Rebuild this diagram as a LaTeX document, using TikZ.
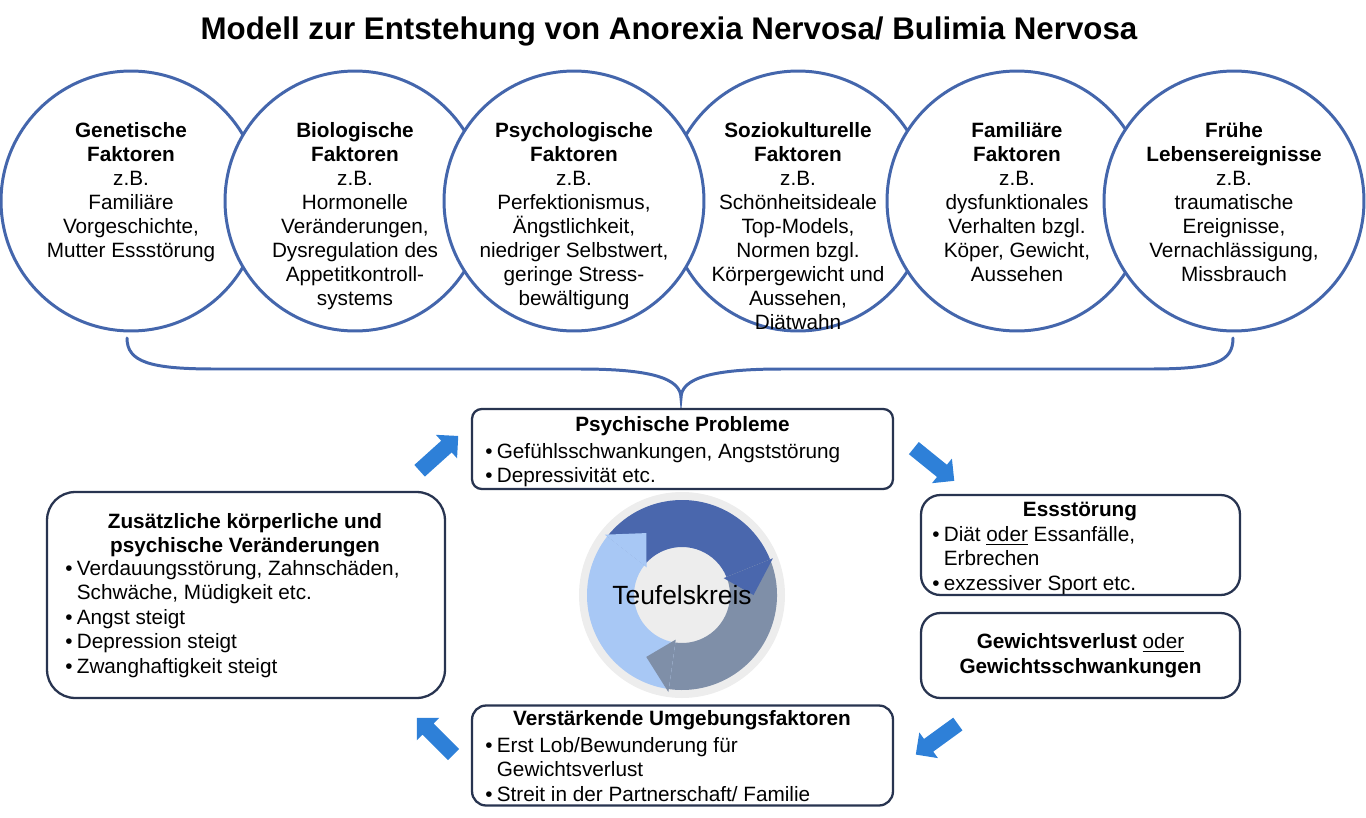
\documentclass[tikz,border=0pt]{standalone}
\usepackage{fontspec}
\setmainfont{Liberation Sans}
\usetikzlibrary{positioning,shapes.arrows}

\definecolor{kreisblau}{RGB}{68,102,172}
\definecolor{rahmen}{RGB}{40,52,80}
\definecolor{pfeilblau}{RGB}{46,128,216}
\definecolor{zyklusdunkel}{RGB}{74,103,173}
\definecolor{zyklusgrau}{RGB}{127,143,168}
\definecolor{zyklushell}{RGB}{168,200,245}
\definecolor{zyklusgrund}{RGB}{237,237,237}

% Aufzaehlungspunkt und Einzug
\newcommand{\pkt}{\makebox[0.23cm][l]{\textbullet}}
\newcommand{\einr}{\hspace*{0.23cm}}

\tikzset{
  faktor/.style={circle, draw=kreisblau, line width=1.7pt, fill=white, minimum size=5.2cm, inner sep=0pt},
  fakttext/.style={align=center, inner sep=0pt, font=\fontsize{11.8}{13.6}\selectfont},
  kasten/.style={draw=rahmen, line width=1.3pt, fill=white, inner sep=0pt},
  kopf/.style={inner sep=0pt, font=\fontsize{11.8}{13.9}\selectfont\bfseries},
  liste/.style={align=left, inner sep=0pt, anchor=north west},
  blockpfeil/.style={single arrow, fill=pfeilblau, draw=none, minimum height=1.04cm, minimum width=0.62cm,
    single arrow head extend=0.16cm, inner xsep=0pt, inner ysep=0.15cm},
  klammer/.style={draw=kreisblau, line width=1.7pt},
}

\begin{document}
\begin{tikzpicture}[x=0.02cm, y=0.02cm, line cap=round, font=\fontsize{11.8}{13.9}\selectfont]
\useasboundingbox (0,0) rectangle (1366,-818);

% --- Titel ---
\node[font=\fontsize{17.8}{21}\selectfont\bfseries, inner sep=0pt, anchor=base] (titel) at (669,-39)
  {Modell zur Entstehung von Anorexia Nervosa/ Bulimia Nervosa};

% --- Faktoren (Reihenfolge wegen Ueberdeckung) ---
\node[faktor] (genetisch) at (131,-201) {};
\node[faktor] (biologisch) at (355,-201) {};
\node[faktor] (soziokult) at (798,-201) {};
\node[faktor] (psycholog) at (574,-201) {};
\node[faktor] (familiaer) at (1017,-201) {};
\node[faktor] (frueh) at (1234,-201) {};

\node[fakttext, below=1.06cm of genetisch.north] (genetisch-t)
  {\textbf{Genetische}\\\textbf{Faktoren}\\z.B.\\Familiäre\\Vorgeschichte,\\Mutter Essstörung};
\node[fakttext, below=1.06cm of biologisch.north] (biologisch-t)
  {\textbf{Biologische}\\\textbf{Faktoren}\\z.B.\\Hormonelle\\Veränderungen,\\Dysregulation des\\Appetitkontroll-\\systems};
\node[fakttext, below=1.06cm of psycholog.north] (psycholog-t)
  {\textbf{Psychologische}\\\textbf{Faktoren}\\z.B.\\Perfektionismus,\\Ängstlichkeit,\\niedriger Selbstwert,\\geringe Stress-\\bewältigung};
\node[fakttext, below=1.06cm of soziokult.north] (soziokult-t)
  {\textbf{Soziokulturelle}\\\textbf{Faktoren}\\z.B.\\Schönheitsideale\\Top-Models,\\Normen bzgl.\\Körpergewicht und\\Aussehen,\\Diätwahn};
\node[fakttext, below=1.06cm of familiaer.north] (familiaer-t)
  {\textbf{Familiäre}\\\textbf{Faktoren}\\z.B.\\dysfunktionales\\Verhalten bzgl.\\Köper, Gewicht,\\Aussehen};
\node[fakttext, below=1.06cm of frueh.north] (frueh-t)
  {\textbf{Frühe}\\\textbf{Lebensereignisse}\\z.B.\\traumatische\\Ereignisse,\\Vernachlässigung,\\Missbrauch};

% --- geschweifte Klammer ---
\coordinate (spitze) at (681,-398);
\draw[klammer] (127,-338) .. controls (127,-362) and (150,-369) .. (215,-369) -- (580,-369)
  .. controls (650,-369) and (681,-378) .. (spitze)
  .. controls (681,-378) and (712,-369) .. (782,-369) -- (1150,-369)
  .. controls (1215,-369) and (1233,-362) .. (1233,-338);

% --- Teufelskreis ---
\begin{scope}[shift={(682,-595)}]
  \fill[zyklusgrund] (0,0) circle[radius=103];
  \foreach \a/\farbe [evaluate=\a as \b using \a-120] in {142/zyklusdunkel, 22/zyklusgrau, -98/zyklushell}
    \fill[\farbe] (\a:95) arc[start angle=\a, end angle=\b, radius=95] -- (\b:48)
      arc[start angle=\b, end angle=\a, radius=48] -- cycle;
  \foreach \a/\farbe [evaluate=\a as \b using \a-120, evaluate=\a as \c using \a-142] in {142/zyklusdunkel, 22/zyklusgrau, -98/zyklushell}
    \fill[\farbe] (\b:98) -- (\c:71.5) -- (\b:45) -- cycle;
  \node[font=\fontsize{15}{18}\selectfont, inner sep=0pt] (teufel) at (0,0) {Teufelskreis};
\end{scope}

% --- Kaesten ---
\node[kasten, rounded corners=5.5pt, minimum width=8.42cm, minimum height=1.6cm] (psychisch) at (682.5,-449) {};
\node[kopf, anchor=base] (psychisch-k) at (682.5,-431) {Psychische Probleme};
\node[liste] (psychisch-l) at (485,-443)
  {\pkt Gefühlsschwankungen, Angststörung\\\pkt Depressivität etc.};

\node[kasten, rounded corners=16pt, minimum width=7.96cm, minimum height=4.12cm] (zusaetzlich) at (246,-595) {};
\node[kopf, align=center, anchor=north] (zusaetzlich-k) at (245,-513)
  {Zusätzliche körperliche und\\psychische Veränderungen};
\node[liste] (zusaetzlich-l) at (65,-560)
  {\pkt Verdauungsstörung, Zahnschäden,\\\einr Schwäche, Müdigkeit etc.\\\pkt Angst steigt\\\pkt Depression steigt\\\pkt Zwanghaftigkeit steigt};

\node[kasten, rounded corners=11pt, minimum width=6.38cm, minimum height=2cm] (essstoerung) at (1080.5,-545) {};
\node[kopf, anchor=base] (essstoerung-k) at (1080,-516) {Essstörung};
\node[liste] (essstoerung-l) at (932,-526)
  {\pkt Diät \underline{oder} Essanfälle,\\\einr Erbrechen\\\pkt exzessiver Sport etc.};

\node[kasten, rounded corners=11pt, minimum width=6.38cm, minimum height=1.7cm, align=center] (gewicht) at (1080.5,-655.5)
  {\textbf{Gewichtsverlust} \underline{oder}\\\textbf{Gewichtsschwankungen}};

\node[kasten, rounded corners=8pt, minimum width=8.42cm, minimum height=2cm] (umgebung) at (682.5,-755.5) {};
\node[kopf, anchor=base] (umgebung-k) at (682,-725) {Verstärkende Umgebungsfaktoren};
\node[liste] (umgebung-l) at (485,-737)
  {\pkt Erst Lob/Bewunderung für\\\einr Gewichtsverlust\\\pkt Streit in der Partnerschaft/ Familie};

% --- Pfeile zwischen den Kaesten ---
\node[blockpfeil, rotate=42] (pfeil1) at (436,-456) {};
\node[blockpfeil, rotate=-39] (pfeil2) at (931,-462) {};
\node[blockpfeil, rotate=216] (pfeil3) at (940,-737) {};
\node[blockpfeil, rotate=135] (pfeil4) at (438,-739) {};

\end{tikzpicture}
\end{document}
